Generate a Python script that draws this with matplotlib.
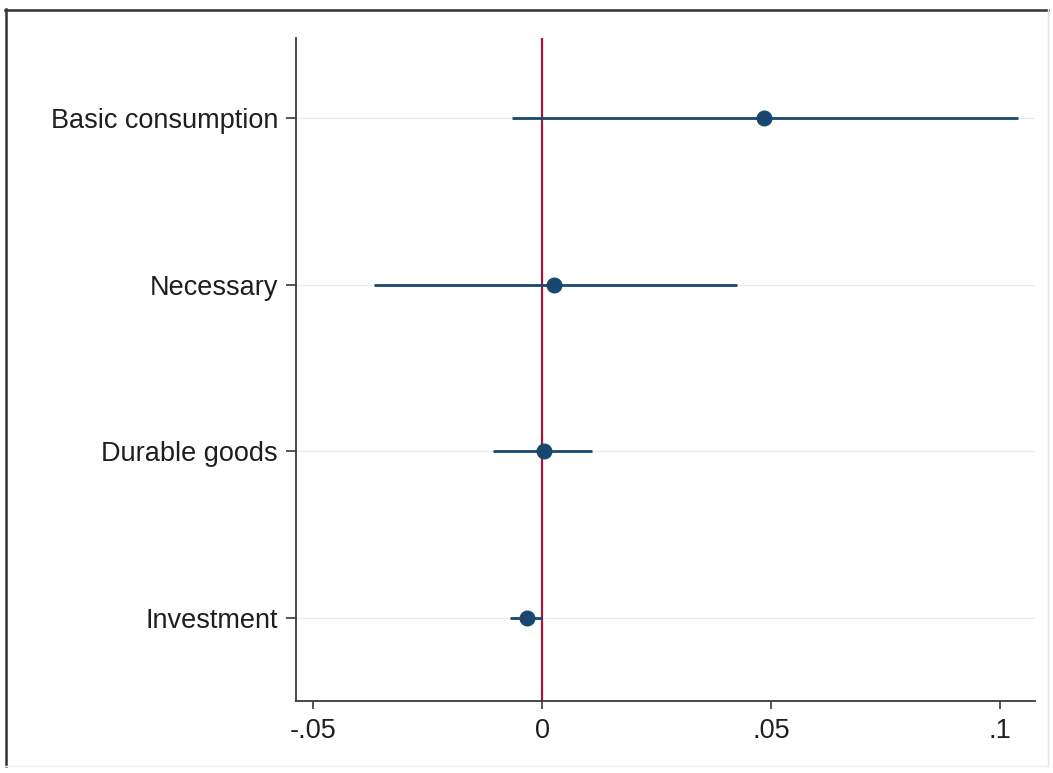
import matplotlib
matplotlib.use("Agg")
import matplotlib.pyplot as plt
from matplotlib.lines import Line2D

categories = ["Basic consumption", "Necessary", "Durable goods", "Investment"]
estimates = [0.0485, 0.0026, 0.0004, -0.0033]
ci_low = [-0.0066, -0.0367, -0.0107, -0.0070]
ci_high = [0.1039, 0.0426, 0.0109, -0.0001]
xticks = [-0.05, 0, 0.05, 0.1]
xticklabels = ["-.05", "0", ".05", ".1"]

plt.rcParams['font.family'] = ['Liberation Sans', 'DejaVu Sans']

fig = plt.figure(figsize=(10.53, 7.73), dpi=100)
ax = fig.add_axes([296/1053, 1-701/773, (1035-296)/1053, (701-38)/773])

ypos = list(range(1, len(categories) + 1))
navy = "#1a476f"
spine_c = "#3a3a3a"

for y in ypos:
    ax.axhline(y, color="#e8ecef", lw=1.0, zorder=0)

ax.axvline(0, color="#a3173f", lw=1.6, zorder=1)

ax.hlines(ypos, ci_low, ci_high, color=navy, lw=2.0, zorder=2)
ax.plot(estimates, ypos, "o", color=navy, ms=10.5, zorder=3)

ax.set_xlim(-0.0537, 0.1076)
ax.set_ylim(4.5, 0.52)
ax.set_yticks(ypos)
ax.set_yticklabels(categories)
ax.set_xticks(xticks)
ax.set_xticklabels(xticklabels)

for s in ["top", "right"]:
    ax.spines[s].set_visible(False)
for s in ["left", "bottom"]:
    ax.spines[s].set_color(spine_c)
    ax.spines[s].set_linewidth(1.3)

ax.tick_params(axis="y", length=7, width=1.2, color=spine_c, pad=6, labelsize=19.5, labelcolor="#1e1e1e")
ax.tick_params(axis="x", length=6, width=1.2, color=spine_c, pad=6, labelsize=19.5, labelcolor="#1e1e1e")

# figure border (scanned frame)
fig.add_artist(Line2D([5/1053, 1048/1053], [1-9.5/773, 1-9.5/773], transform=fig.transFigure, color="#333333", lw=1.8))
fig.add_artist(Line2D([5.5/1053, 5.5/1053], [1-9/773, 1-766/773], transform=fig.transFigure, color="#333333", lw=1.8))
fig.add_artist(Line2D([1048/1053, 1048/1053], [1-9/773, 1-766/773], transform=fig.transFigure, color="#e4e4e4", lw=1.0))
fig.add_artist(Line2D([5/1053, 1048/1053], [1-766/773, 1-766/773], transform=fig.transFigure, color="#eeeeee", lw=1.0))

fig.savefig("out.png", dpi=100)
